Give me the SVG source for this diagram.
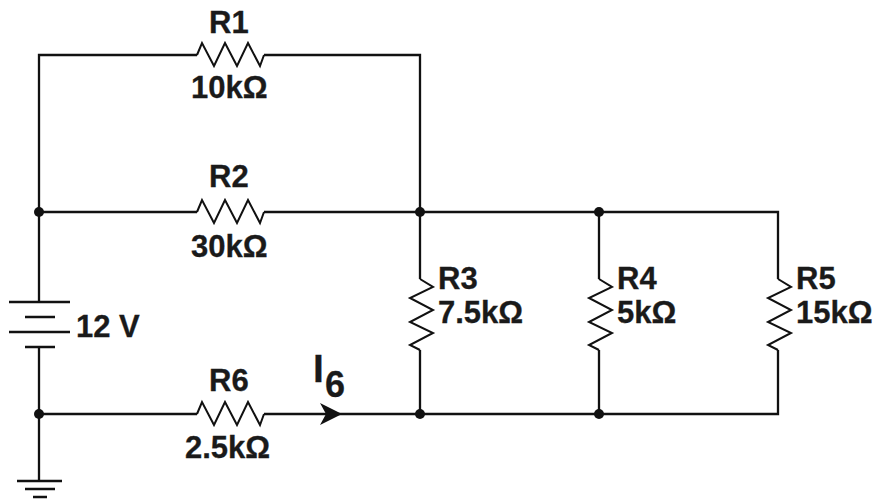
<svg xmlns="http://www.w3.org/2000/svg" width="879" height="500" viewBox="0 0 879 500">
<style>
.w{fill:none;stroke:#111;stroke-width:2.3;stroke-linejoin:miter}
.z{fill:none;stroke:#111;stroke-width:2;stroke-linejoin:miter}
.t{font-family:"Liberation Sans",Arial,sans-serif;font-weight:bold;font-size:31px;fill:#1a1a1a;stroke:#1a1a1a;stroke-width:.3}
.d{fill:#111}
</style>
<defs>
<path id="rh" class="z" d="M0 0L5 -12L17 11L28 -12L40 11L51 -12L63 11L67 0"/>
<path id="rv" class="z" d="M0 0L13 8L-10 19L13 31L-10 43L13 54L-10 66L0 71"/>
</defs>
<rect width="879" height="500" fill="#fff"/>
<g id="connectors">
<path class="w" d="M197 55H39V302M264 55H420V212M39 212H197M264 212H778V279M420 212V279M599 212V279M420 350V414M599 350V414M778 350V414H264M197 414H39V481M39 347V414"/>
<path class="d" d="M320 403L342 414L320 425L326 414Z"/>
</g>
<g id="R1"><use href="#rh" x="197" y="55"/><text class="t" x="209" y="33">R1</text><text class="t" x="191" y="98">10kΩ</text></g>
<g id="R2"><use href="#rh" x="197" y="212"/><text class="t" x="209" y="187">R2</text><text class="t" x="191" y="257">30kΩ</text></g>
<g id="R3"><use href="#rv" x="420" y="279"/><text class="t" x="438" y="289">R3</text><text class="t" x="438" y="323">7.5kΩ</text></g>
<g id="R4"><use href="#rv" x="599" y="279"/><text class="t" x="617" y="289">R4</text><text class="t" x="617" y="323">5kΩ</text></g>
<g id="R5"><use href="#rv" x="778" y="279"/><text class="t" x="796" y="289">R5</text><text class="t" x="796" y="323">15kΩ</text></g>
<g id="R6"><use href="#rh" x="197" y="414"/><text class="t" x="209" y="391">R6</text><text class="t" x="185" y="458">2.5kΩ</text></g>
<g id="V1"><path class="w" d="M9 302H70M25 317H55M9 332H70M25 347H55"/><text class="t" x="76" y="337">12 V</text></g>
<g id="GND"><path class="w" d="M17 481H62M25 489H55M33 497H47"/></g>
<g id="I6"><text class="t" x="313" y="382" style="font-size:39px">I</text><text class="t" x="325" y="397" style="font-size:36px">6</text></g>
<g id="junctions">
<circle class="d" cx="39" cy="212" r="5"/><circle class="d" cx="420" cy="212" r="5"/><circle class="d" cx="599" cy="212" r="5"/>
<circle class="d" cx="39" cy="414" r="5"/><circle class="d" cx="420" cy="414" r="5"/><circle class="d" cx="599" cy="414" r="5"/>
</g>
</svg>
